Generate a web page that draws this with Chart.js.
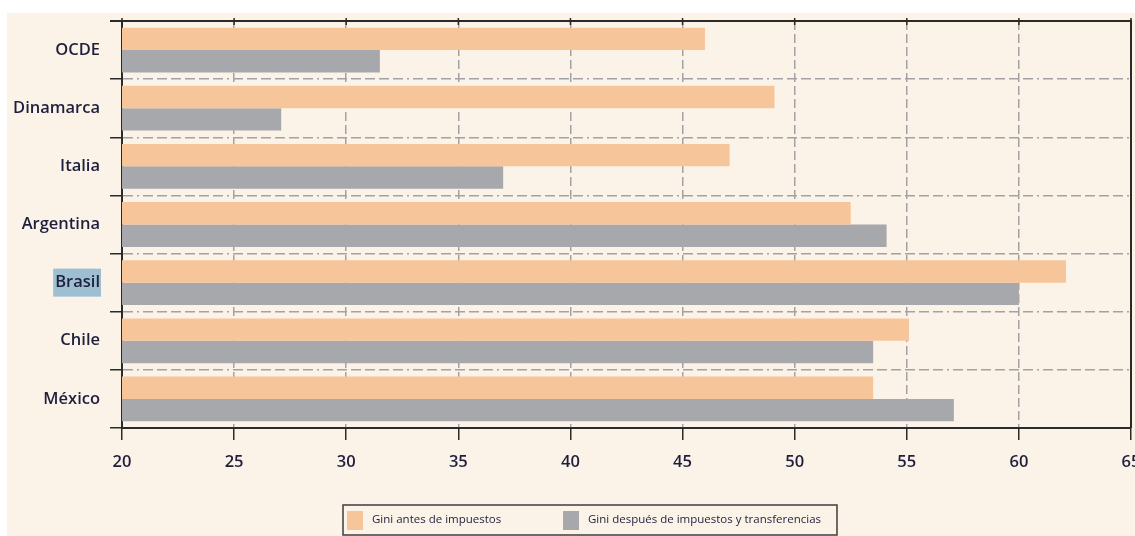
<!DOCTYPE html>
<html lang="es">
<head>
<meta charset="utf-8">
<title>Gini antes y después de impuestos y transferencias</title>
<script src="https://cdn.jsdelivr.net/npm/chart.js@4.4.1/dist/chart.umd.min.js"></script>
<style>
  html, body { margin: 0; padding: 0; background: #ffffff; }
  #wrap { position: relative; width: 1135px; height: 536px; }
  canvas { display: block; }
</style>
</head>
<body>
<div id="wrap"><canvas id="chart" width="1135" height="536"></canvas></div>
<script>
// Países y valores del coeficiente de Gini
const paises = ['OCDE', 'Dinamarca', 'Italia', 'Argentina', 'Brasil', 'Chile', 'México'];
const giniAntes = [46.0, 49.1, 47.1, 52.5, 62.1, 55.1, 53.5];
const giniDespues = [31.5, 27.1, 37.0, 54.1, 60.0, 53.5, 57.1];
const ticksX = [20, 25, 30, 35, 40, 45, 50, 55, 60, 65];
const etiquetaResaltada = 'Brasil';

const FUENTE = '"Open Sans", "DejaVu Sans", sans-serif';
const PESO = 600;
const COLOR_TEXTO = '#1e1f3d';
const COLOR_EJE = '#2a2a2a';
const COLOR_REJILLA = '#a2a2a6';

// Fondo crema y resaltado de la etiqueta
const fondo = {
  id: 'fondo',
  beforeDraw(chart) {
    const ctx = chart.ctx;
    ctx.save();
    ctx.fillStyle = '#fcf3e8';
    ctx.fillRect(7, 13, chart.width - 7, chart.height - 13);
    const y = chart.scales.y;
    const idx = paises.indexOf(etiquetaResaltada);
    if (idx >= 0) {
      ctx.font = PESO + ' 16.5px ' + FUENTE;
      const w = ctx.measureText(etiquetaResaltada).width;
      const right = y.right - 12 - 10;
      const cy = y.getPixelForValue(idx);
      ctx.fillStyle = '#9ebfd1';
      ctx.fillRect(right - w - 2, cy - 14, w + 3, 28);
    }
    ctx.restore();
  }
};

// Marco superior/derecho, marcas superiores y leyenda en recuadro
const marco = {
  id: 'marco',
  afterDraw(chart) {
    const ctx = chart.ctx;
    const a = chart.chartArea;
    const x = chart.scales.x;
    ctx.save();
    ctx.strokeStyle = COLOR_EJE;
    ctx.lineWidth = 2;
    ctx.beginPath();
    ctx.moveTo(a.left - 12, a.top);
    ctx.lineTo(a.right, a.top);
    ctx.lineTo(a.right, a.bottom);
    ctx.stroke();
    ctx.lineWidth = 1.5;
    ticksX.forEach(v => {
      const px = x.getPixelForValue(v);
      ctx.beginPath();
      ctx.moveTo(px, a.top - 3);
      ctx.lineTo(px, a.top + 4);
      ctx.stroke();
    });
    // Leyenda
    const bx = 343, by = 505, bw = 494, bh = 30;
    ctx.strokeStyle = '#3c3c3c';
    ctx.lineWidth = 1.5;
    ctx.strokeRect(bx, by, bw, bh);
    const items = [{x: 347, tx: 372}, {x: 563, tx: 588}];
    ctx.font = '500 11.5px ' + FUENTE;
    ctx.textBaseline = 'middle';
    ctx.textAlign = 'left';
    chart.data.datasets.forEach((ds, i) => {
      const it = items[i];
      ctx.fillStyle = ds.backgroundColor;
      ctx.fillRect(it.x, by + 6, 16, 19);
      ctx.fillStyle = COLOR_TEXTO;
      ctx.fillText(ds.label, it.tx, by + 15);
    });
    ctx.restore();
  }
};

new Chart(document.getElementById('chart'), {
  type: 'bar',
  data: {
    labels: paises,
    datasets: [
      { label: 'Gini antes de impuestos', data: giniAntes, backgroundColor: '#f7c59a' },
      { label: 'Gini después de impuestos y transferencias', data: giniDespues, backgroundColor: '#a7a8ac' }
    ]
  },
  options: {
    indexAxis: 'y',
    responsive: false,
    animation: false,
    devicePixelRatio: 1,
    layout: { padding: { top: 21, right: 4, left: 0, bottom: 0 } },
    datasets: { bar: { categoryPercentage: 0.77, barPercentage: 1.0 } },
    plugins: { legend: { display: false }, tooltip: { enabled: false } },
    scales: {
      x: {
        type: 'linear',
        min: 20, max: 65,
        afterBuildTicks(scale) { scale.ticks = ticksX.map(v => ({ value: v })); },
        afterFit(scale) {
          scale.height = 108;
          scale.paddingRight = 0;
          scale.paddingLeft = 0;
        },
        ticks: { color: COLOR_TEXTO, font: { family: FUENTE, size: 16.5, weight: PESO }, padding: 12, maxRotation: 0, autoSkip: false },
        grid: {
          color: COLOR_REJILLA, lineWidth: 1.5,
          tickColor: COLOR_EJE, tickWidth: 1.5, tickLength: 12
        },
        border: { color: COLOR_EJE, width: 2, dash: [9, 4] }
      },
      y: {
        type: 'category',
        offset: true,
        afterFit(scale) { scale.width = 122; },
        ticks: { color: COLOR_TEXTO, font: { family: FUENTE, size: 16.5, weight: PESO }, padding: 10, autoSkip: false },
        grid: {
          offset: true,
          color: COLOR_REJILLA, lineWidth: 1.5,
          tickColor: COLOR_EJE, tickWidth: 1.5, tickLength: 12
        },
        border: { color: COLOR_EJE, width: 2, dash: [10, 4, 2, 4, 10, 4, 10, 4, 10, 4, 10, 4, 10, 4] }
      }
    }
  },
  plugins: [fondo, marco]
});
</script>
</body>
</html>
